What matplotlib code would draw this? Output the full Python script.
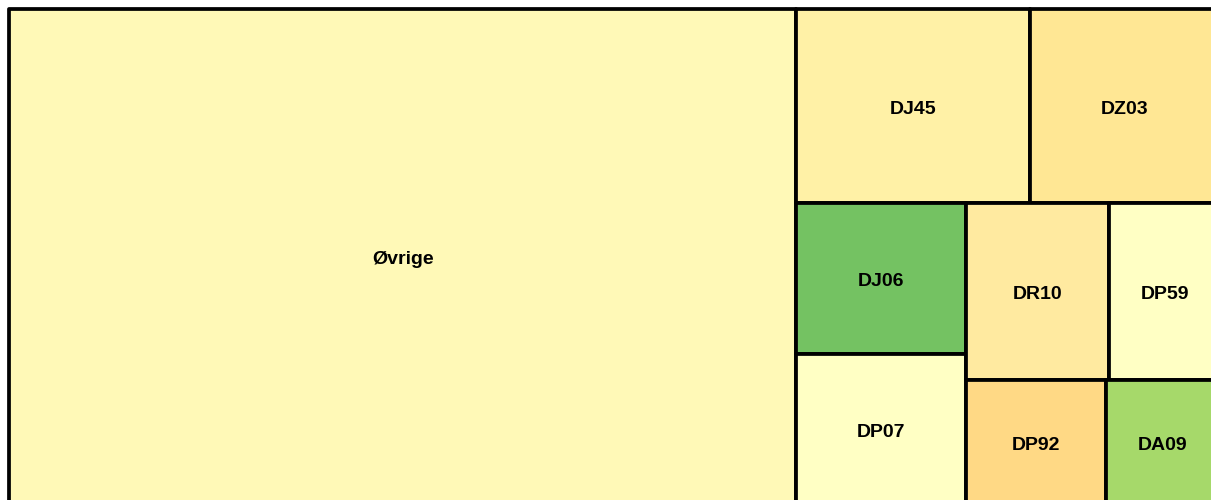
import matplotlib

matplotlib.use("Agg")
import matplotlib.pyplot as plt
from matplotlib.patches import Rectangle

labels = ["Øvrige", "DJ45", "DZ03", "DJ06", "DP07", "DR10", "DP59", "DP92", "DA09"]
sizes = [390800, 45400, 36900, 25700, 25600, 25300, 19650, 17500, 14250]
colors = ["#FFF9B7", "#FFF1A6", "#FFE794", "#74C262", "#FFFFC4",
          "#FFEAA0", "#FFFFC4", "#FFD985", "#A6D96A"]

W, H = 1211.0, 496.0  # drawing domain (aspect of the treemap)


def worst(row, w):
    s = sum(row)
    return max(max(w * w * r / (s * s), (s * s) / (w * w * r)) for r in row)


def squarify(vals, x, y, dx, dy):
    if not vals:
        return []
    if len(vals) == 1:
        return [(x, y, dx, dy)]
    side = min(dx, dy)
    i = 1
    while i < len(vals) and worst(vals[:i], side) >= worst(vals[:i + 1], side):
        i += 1
    row, rest = vals[:i], vals[i:]
    s = sum(row)
    rects = []
    if dx >= dy:
        w = s / dy
        yy = y
        for v in row:
            h = v / w
            rects.append((x, yy, w, h))
            yy += h
        return rects + squarify(rest, x + w, y, dx - w, dy)
    h = s / dx
    xx = x
    for v in row:
        w = v / h
        rects.append((xx, y, w, h))
        xx += w
    return rects + squarify(rest, x, y + h, dx, dy - h)


total = sum(sizes)
areas = [v * W * H / total for v in sizes]
rects = squarify(areas, 0, 0, W, H)

fig = plt.figure(figsize=(12.11, 5.0), dpi=100)
ax = fig.add_axes([9 / 1211, -5 / 500, 1.0, 496 / 500])
ax.set_xlim(0, W)
ax.set_ylim(H, 0)
ax.axis("off")

for (x, y, w, h), lab, c in zip(rects, labels, colors):
    ax.add_patch(Rectangle((x, y), w, h, facecolor=c, edgecolor="black",
                           linewidth=2.7, joinstyle="round", clip_on=False))
    ax.text(x + w / 2, y + h / 2 + 3, lab, ha="center", va="center",
            fontsize=14, fontweight="bold", family="Liberation Sans", color="black")

fig.savefig("out.png", dpi=100)
